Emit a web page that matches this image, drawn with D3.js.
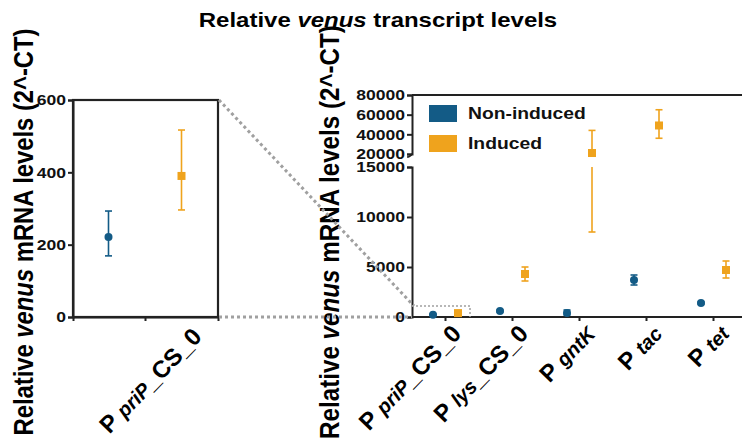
<!DOCTYPE html>
<html>
<head>
<meta charset="utf-8">
<script src="https://cdn.jsdelivr.net/npm/d3@7"></script>
<style>
  body { margin: 0; background: #fff; }
  svg { display: block; font-family: "Liberation Sans", Arial, sans-serif; font-weight: bold; }
</style>
</head>
<body>
<div id="chart"></div>
<script>
// data
const promoters = ["priP_CS_0", "lys_CS_0", "gntK", "tac", "tet"];
const subNames = ["priP", "lys", "gntK", "tac", "tet"];
const suffixes = ["_CS_0", "_CS_0", "", "", ""];
const seriesNames = ["Non-induced", "Induced"];
const nonInduced = [221, 600, 400, 3700, 1400];
const nonInducedLo = [169, 500, 200, 3200, 1300];
const nonInducedHi = [293, 700, 700, 4200, 1500];
const induced = [390, 4300, 21000, 49000, 4700];
const inducedLo = [296, 3600, 8500, 36000, 3900];
const inducedHi = [517, 5000, 44000, 65000, 5600];
const leftTicks = [0, 200, 400, 600];
const lowTicks = [0, 5000, 10000, 15000];
const highTicks = [20000, 40000, 60000, 80000];

const W = 742, H = 439;
const SX = 1.17; // the figure is stretched sideways
const blue = "#135b86", orange = "#efa31d", axisCol = "#222", dotCol = "#a0a0a0";

const svg = d3.select("#chart").append("svg").attr("width", W).attr("height", H);

function stretched(g, x, y, rot) {
  return g.append("text")
    .attr("transform", `translate(${x},${y}) scale(${SX},1) rotate(${rot || 0})`);
}

const series = [
  { name: seriesNames[0], v: nonInduced, lo: nonInducedLo, hi: nonInducedHi, color: blue, shape: "circle" },
  { name: seriesNames[1], v: induced, lo: inducedLo, hi: inducedHi, color: orange, shape: "square" }
];

// title
const title = stretched(svg, 378, 27).attr("text-anchor", "middle").attr("font-size", 20.5);
title.append("tspan").text("Relative ");
title.append("tspan").attr("font-style", "italic").text("venus");
title.append("tspan").text(" transcript levels");

function yTitle(x, y, fs) {
  const t = stretched(svg, x, y, -90).attr("text-anchor", "middle").attr("font-size", fs);
  t.append("tspan").text("Relative ");
  t.append("tspan").attr("font-style", "italic").text("venus");
  t.append("tspan").text(" mRNA levels (2^-CT)");
}
yTitle(33, 232, 23.8);
yTitle(339, 232, 24.2);

function xLabel(g, x, y, i) {
  const t = g.append("text").attr("transform", `translate(${x},${y}) rotate(-46)`)
    .attr("text-anchor", "end").attr("font-size", 24);
  t.append("tspan").text("P ");
  t.append("tspan").attr("font-style", "italic").attr("font-size", 20).text(subNames[i]);
  if (suffixes[i]) t.append("tspan").text(suffixes[i]);
}

function drawMarker(g, x, y, s) {
  if (s.shape === "circle") {
    g.append("circle").attr("cx", x).attr("cy", y).attr("r", 4).attr("fill", s.color);
  } else {
    g.append("rect").attr("x", x - 4).attr("y", y - 4).attr("width", 8).attr("height", 8).attr("fill", s.color);
  }
}

function errBar(g, x, segs, yLo, yHi, color) {
  segs.forEach(sg => {
    g.append("line").attr("x1", x).attr("x2", x).attr("y1", sg[0]).attr("y2", sg[1])
      .attr("stroke", color).attr("stroke-width", 1.6);
  });
  [yLo, yHi].forEach(yy => {
    g.append("line").attr("x1", x - 3.5).attr("x2", x + 3.5).attr("y1", yy).attr("y2", yy)
      .attr("stroke", color).attr("stroke-width", 1.6);
  });
}

// ---------- left (zoomed) panel ----------
const left = svg.append("g");
const xL = d3.scaleBand().domain([promoters[0]]).range([73, 218]);
const yL = d3.scaleLinear().domain([0, 600]).range([317, 100]);
const cxL = xL(promoters[0]) + xL.bandwidth() / 2;
const offL = [-37, 36];

left.append("rect").attr("x", 73).attr("y", yL(600)).attr("width", 145).attr("height", yL(0) - yL(600))
  .attr("fill", "none").attr("stroke", axisCol).attr("stroke-width", 2.2);

left.append("g").attr("transform", "translate(73,0)")
  .call(d3.axisLeft(yL).tickValues(leftTicks).tickSize(5).tickPadding(2));
left.append("g").attr("transform", "translate(0,317)")
  .call(d3.axisBottom(xL).tickSize(4).tickFormat(""));

series.forEach((s, k) => {
  const x = cxL + offL[k];
  errBar(left, x, [[yL(s.lo[0]), yL(s.hi[0])]], yL(s.lo[0]), yL(s.hi[0]), s.color);
  drawMarker(left, x, yL(s.v[0]), s);
});
xLabel(left, 203, 338, 0);

// ---------- right panel with broken axis ----------
const right = svg.append("g");
const x0 = 412;
const xR = d3.scaleBand().domain(promoters).range([x0, x0 + 5 * 67]);
const yLow = d3.scaleLinear().domain([0, 15000]).range([317, 167]);
const yHigh = d3.scaleLinear().domain([20000, 80000]).range([154, 95]);
const yR = v => v <= 15000 ? yLow(v) : yHigh(v);
const offR = [-12.5, 12.5];

function segs(lo, hi) {
  if (hi <= 15000 || lo >= 20000) return [[yR(lo), yR(hi)]];
  return [[yR(lo), yLow(15000)], [yHigh(20000), yR(hi)]];
}

// dotted zoom guides
const guides = svg.append("g").attr("stroke", dotCol).attr("fill", "none");
guides.append("line").attr("x1", 219).attr("y1", yL(600)).attr("x2", 414).attr("y2", 306)
  .attr("stroke-width", 3).attr("stroke-dasharray", "3,3");
guides.append("line").attr("x1", 219).attr("y1", 317).attr("x2", x0).attr("y2", 317)
  .attr("stroke-width", 3).attr("stroke-dasharray", "3,3");
guides.append("path").attr("d", `M${x0},306H470V317`)
  .attr("stroke-width", 1.5).attr("stroke-dasharray", "2,2");

right.append("g").attr("transform", `translate(${x0},0)`)
  .call(d3.axisLeft(yLow).tickValues(lowTicks).tickSize(5).tickPadding(2).tickFormat(d3.format("d")));
right.append("g").attr("transform", `translate(${x0},0)`)
  .call(d3.axisLeft(yHigh).tickValues(highTicks).tickSize(5).tickPadding(2).tickFormat(d3.format("d")));
const axBot = right.append("g").attr("transform", "translate(0,317)")
  .call(d3.axisBottom(xR).tickSize(4).tickFormat(""));
axBot.select(".domain").attr("d", `M${x0},0H${W}`);
right.append("line").attr("x1", x0).attr("x2", W).attr("y1", 95).attr("y2", 95)
  .attr("stroke", axisCol).attr("stroke-width", 2);

// style all axes
svg.selectAll(".domain, .tick line").attr("stroke", axisCol).attr("stroke-width", 2);
svg.selectAll(".tick text").attr("fill", "#111").attr("font-size", 15)
  .attr("font-family", "Liberation Sans, Arial, sans-serif").attr("font-weight", "bold")
  .each(function () {
    const t = d3.select(this);
    const x = +t.attr("x");
    t.attr("x", 0).attr("transform", `translate(${x},0) scale(${SX},1)`);
  });

// break mark
right.append("path").attr("d", `M${x0},${yHigh(20000)}q-2,3 -5,3`).attr("stroke", axisCol)
  .attr("stroke-width", 1.5).attr("fill", "none");

series.forEach((s, k) => {
  promoters.forEach((p, i) => {
    const x = xR(p) + xR.bandwidth() / 2 + offR[k];
    errBar(right, x, segs(s.lo[i], s.hi[i]), yR(s.lo[i]), yR(s.hi[i]), s.color);
    drawMarker(right, x, yR(s.v[i]), s);
  });
});

promoters.forEach((p, i) => {
  const tx = xR(p) + xR.bandwidth() / 2;
  xLabel(right, tx + 17, 335, i);
});

// legend
const legend = right.append("g");
series.forEach((s, k) => {
  const ly = 105 + k * 30;
  legend.append("rect").attr("x", 429).attr("y", ly).attr("width", 28).attr("height", 17).attr("fill", s.color);
  stretched(legend, 468, ly + 14).attr("font-size", 16.5).attr("fill", "#111").text(s.name);
});
</script>
</body>
</html>
